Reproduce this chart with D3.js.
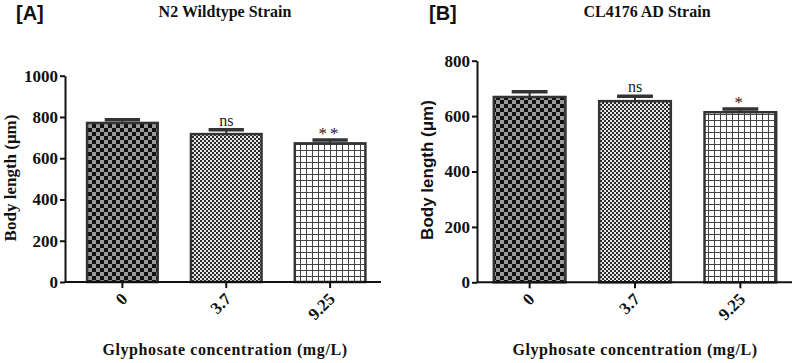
<!DOCTYPE html>
<html>
<head>
<meta charset="utf-8">
<script src="https://cdn.jsdelivr.net/npm/d3@7"></script>
<style>
  body { margin: 0; background: #fff; }
  svg { display: block; }
</style>
</head>
<body>
<svg id="chart" width="796" height="363"></svg>
<script>
// data
const concentrations = ["0", "3.7", "9.25"];
const n2Means = [771, 717, 672];
const n2Sem = [16, 21, 16];
const n2Sig = ["", "ns", "**"];
const clMeans = [669, 654, 614];
const clSem = [19, 18, 12];
const clSig = ["", "ns", "*"];
const n2Ticks = [0, 200, 400, 600, 800, 1000];
const clTicks = [0, 200, 400, 600, 800];

const svg = d3.select("#chart");
const serif = "'Liberation Serif', 'Times New Roman', serif";
const sans = "'Liberation Sans', Arial, sans-serif";
const ink = "#333";

// fill patterns for the three bars
const defs = svg.append("defs");
const p1 = defs.append("pattern").attr("id", "pat0")
    .attr("patternUnits", "userSpaceOnUse").attr("width", 8).attr("height", 8);
p1.append("rect").attr("width", 8).attr("height", 8).attr("fill", "#9a9a9a");
p1.append("rect").attr("width", 4).attr("height", 4).attr("fill", "#111");
p1.append("rect").attr("x", 4).attr("y", 4).attr("width", 4).attr("height", 4).attr("fill", "#111");

const p2 = defs.append("pattern").attr("id", "pat1")
    .attr("patternUnits", "userSpaceOnUse").attr("width", 4).attr("height", 4);
p2.append("rect").attr("width", 4).attr("height", 4).attr("fill", "#e8e8e8");
p2.append("rect").attr("width", 2).attr("height", 2).attr("fill", "#2a2a2a");
p2.append("rect").attr("x", 2).attr("y", 2).attr("width", 2).attr("height", 2).attr("fill", "#2a2a2a");

const p3 = defs.append("pattern").attr("id", "pat2")
    .attr("patternUnits", "userSpaceOnUse").attr("width", 6).attr("height", 6);
p3.append("rect").attr("width", 6).attr("height", 6).attr("fill", "#fff");
p3.append("path").attr("d", "M0,0.5H6M0.5,0V6").attr("stroke", "#444").attr("stroke-width", 1);

function panel(opts) {
    const g = svg.append("g");

    const x = d3.scaleBand()
        .domain(concentrations)
        .range(opts.xRange)
        .paddingInner(0.32)
        .paddingOuter(0.15);

    const y = d3.scaleLinear()
        .domain([0, opts.yMax])
        .range(opts.yRange);

    const base = y(0);

    // bars
    g.selectAll("rect.bar")
        .data(opts.means)
        .enter()
        .append("rect")
        .attr("class", "bar")
        .attr("x", (d, i) => x(concentrations[i]))
        .attr("y", d => y(d))
        .attr("width", x.bandwidth())
        .attr("height", d => base - y(d))
        .attr("fill", (d, i) => `url(#pat${i})`)
        .attr("stroke", ink)
        .attr("stroke-width", 2.5);

    // error bars (upper only)
    const cap = x.bandwidth() / 2;
    opts.means.forEach((m, i) => {
        const cx = x(concentrations[i]) + x.bandwidth() / 2;
        const top = y(m + opts.sem[i]);
        g.append("line")
            .attr("x1", cx).attr("x2", cx)
            .attr("y1", y(m)).attr("y2", top)
            .attr("stroke", ink).attr("stroke-width", 2);
        g.append("line")
            .attr("x1", cx - cap / 2).attr("x2", cx + cap / 2)
            .attr("y1", top).attr("y2", top)
            .attr("stroke", ink).attr("stroke-width", 3.5);
        if (opts.sig[i]) {
            const star = opts.sig[i].includes("*");
            g.append("text")
                .attr("x", cx)
                .attr("y", star ? top - 1 : top - 4)
                .attr("text-anchor", "middle")
                .attr("font-family", serif)
                .attr("font-size", star ? "17px" : "16px")
                .attr("letter-spacing", star ? "3px" : null)
                .attr("fill", "#222")
                .text(opts.sig[i]);
        }
    });

    // y axis
    const yAxis = g.append("g")
        .attr("transform", `translate(${opts.axisX},0)`)
        .call(d3.axisLeft(y).tickValues(opts.ticks).tickFormat(d3.format("d"))
            .tickSize(5).tickSizeOuter(0).tickPadding(2));
    yAxis.select(".domain").attr("stroke", "#111").attr("stroke-width", 2);
    yAxis.selectAll(".tick line").attr("stroke", "#111").attr("stroke-width", 2);
    yAxis.selectAll("text")
        .attr("font-family", serif)
        .attr("font-weight", "bold")
        .attr("font-size", "17px")
        .attr("fill", "#111");

    // x axis
    const xAxis = g.append("g")
        .attr("transform", `translate(0,${base})`)
        .call(d3.axisBottom(x).tickSize(6).tickSizeOuter(0));
    xAxis.select(".domain").remove();
    xAxis.append("line")
        .attr("x1", opts.axisX).attr("x2", opts.xRange[1])
        .attr("stroke", "#111").attr("stroke-width", 2);
    xAxis.selectAll(".tick line").attr("stroke", "#111").attr("stroke-width", 2);
    xAxis.selectAll(".tick text")
        .attr("font-family", serif)
        .attr("font-weight", "bold")
        .attr("font-size", "17px")
        .attr("fill", "#111")
        .attr("text-anchor", "end")
        .attr("y", 0).attr("dy", 0)
        .attr("transform", "translate(6,18) rotate(-45)");

    // titles
    svg.append("text")
        .attr("x", opts.tagX).attr("y", 20)
        .attr("font-family", sans).attr("font-weight", "bold").attr("font-size", "20px")
        .attr("fill", "#111")
        .text(opts.tag);
    svg.append("text")
        .attr("x", opts.titleX).attr("y", 17)
        .attr("text-anchor", "middle")
        .attr("font-family", serif).attr("font-weight", "bold").attr("font-size", "16px")
        .attr("fill", "#111")
        .text(opts.title);
    svg.append("text")
        .attr("transform", `translate(${opts.yLabelX},${opts.yLabelY}) rotate(-90)`)
        .attr("text-anchor", "middle")
        .attr("font-family", opts.yLabelFont).attr("font-weight", "bold").attr("font-size", "17px")
        .attr("fill", "#111")
        .text("Body length (μm)");
    svg.append("text")
        .attr("x", opts.xLabelX).attr("y", 355)
        .attr("text-anchor", "middle")
        .attr("font-family", serif).attr("font-weight", "bold").attr("font-size", "16px")
        .attr("letter-spacing", "0.6px")
        .attr("fill", "#111")
        .text("Glyphosate concentration (mg/L)");
}

panel({
    means: n2Means, sem: n2Sem, sig: n2Sig, ticks: n2Ticks, yMax: 1000,
    xRange: [71.5, 381], yRange: [282, 75.7], axisX: 65,
    tag: "[A]", tagX: 16, title: "N2 Wildtype Strain", titleX: 225,
    yLabelX: 16, yLabelY: 178, yLabelFont: serif, xLabelX: 225
});

panel({
    means: clMeans, sem: clSem, sig: clSig, ticks: clTicks, yMax: 800,
    xRange: [478, 792], yRange: [282.3, 60.7], axisX: 477,
    tag: "[B]", tagX: 429, title: "CL4176 AD Strain", titleX: 647,
    yLabelX: 433, yLabelY: 170, yLabelFont: sans, xLabelX: 635
});
</script>
</body>
</html>
